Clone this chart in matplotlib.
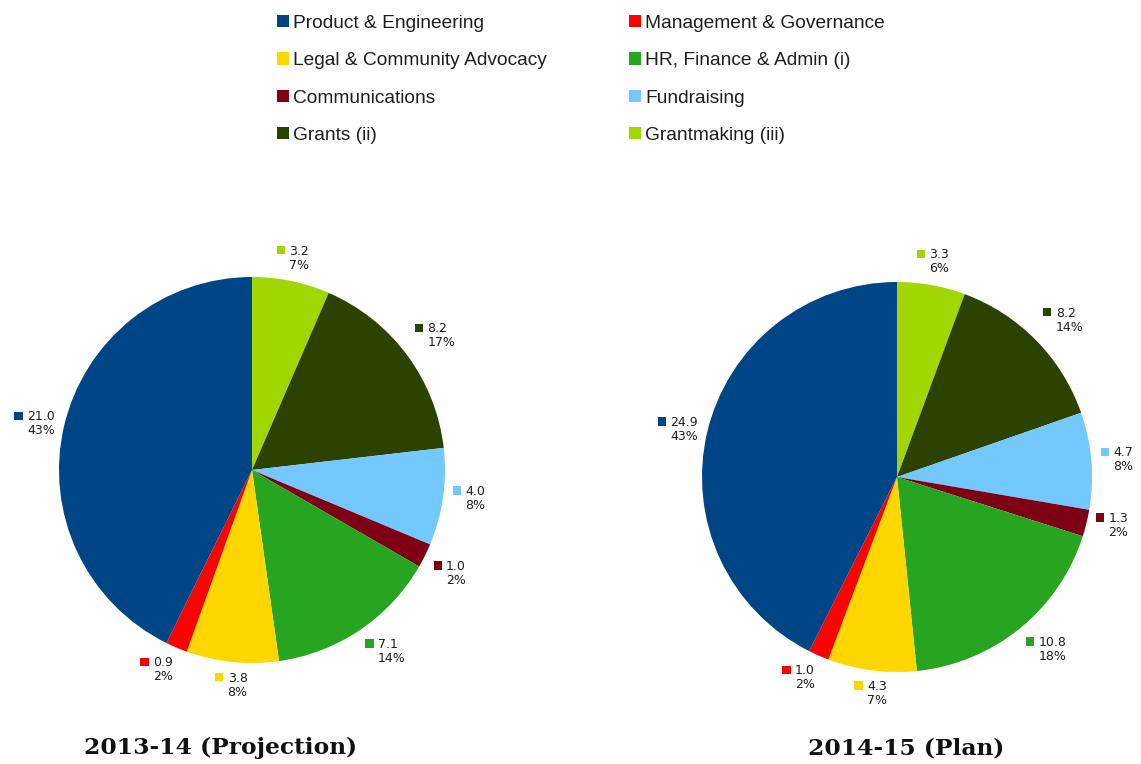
import numpy as np
import matplotlib
matplotlib.use("Agg")
import matplotlib.pyplot as plt
from matplotlib.patches import Patch, Rectangle
from matplotlib.offsetbox import DrawingArea, TextArea, HPacker, AnnotationBbox

categories = [
    "Product & Engineering",
    "Management & Governance",
    "Legal & Community Advocacy",
    "HR, Finance & Admin (i)",
    "Communications",
    "Fundraising",
    "Grants (ii)",
    "Grantmaking (iii)",
]
colors = ["#004586", "#ff0000", "#ffd700", "#27a520", "#7e0015", "#72c8ff", "#2c4200", "#a2d600"]

# values in $M, pie order clockwise from 12 o'clock (reverse of the list above)
values_2013 = [21.0, 0.9, 3.8, 7.1, 1.0, 4.0, 8.2, 3.2]
values_2014 = [24.9, 1.0, 4.3, 10.8, 1.3, 4.7, 8.2, 3.3]
titles = ["2013-14 (Projection)", "2014-15 (Plan)"]

W, H = 1141, 764
TEXT_COLOR = "#1e1e1e"


def px_axes(fig, cx, cy, r):
    return fig.add_axes([(cx - r) / W, 1 - (cy + r) / H, 2 * r / W, 2 * r / H])


def slice_label(ax, color, value, pct, angle):
    # angle: degrees clockwise from top
    a = np.deg2rad(angle)
    s, c = np.sin(a), np.cos(a)
    x, y = 1.05 * s, 1.05 * c
    fx = 0.0 if s > 0.3 else (1.0 if s < -0.3 else 0.5)
    fy = 0.0 if c > 0.3 else (1.0 if c < -0.3 else 0.5)
    da = DrawingArea(6, 9)
    da.add_artist(Rectangle((0, 2), 6, 6, fc=color, ec="none"))
    ta = TextArea(f"{value:.1f}\n{pct:.0f}%",
                  textprops=dict(fontsize=9, color=TEXT_COLOR, linespacing=1.1,
                                 family="DejaVu Sans"))
    box = HPacker(children=[da, ta], align="top", pad=0, sep=3)
    ab = AnnotationBbox(box, (x, y), xycoords="data", box_alignment=(fx, fy),
                        frameon=False, pad=0, annotation_clip=False)
    ax.add_artist(ab)


def draw_pie(ax, values):
    order = list(range(len(values)))[::-1]
    vals = [values[i] for i in order]
    cols = [colors[i] for i in order]
    ax.pie(vals, colors=cols, startangle=90, counterclock=False, radius=1,
           wedgeprops=dict(linewidth=0))
    ax.set_xlim(-1, 1)
    ax.set_ylim(-1, 1)
    ax.set_aspect("equal")
    ax.axis("off")
    total = sum(vals)
    cum = 0.0
    for v, col in zip(vals, cols):
        mid = (cum + v / 2) / total * 360
        slice_label(ax, col, v, round(v / total * 100), mid)
        cum += v


fig = plt.figure(figsize=(W / 100, H / 100), dpi=100)

ax1 = px_axes(fig, 252, 470, 193)
draw_pie(ax1, values_2013)
ax2 = px_axes(fig, 897, 477, 195)
draw_pie(ax2, values_2014)

fig.text(221 / W, 1 - 748 / H, titles[0], ha="center", va="center",
         fontsize=16.8, fontweight="bold", family="DejaVu Serif", color="#111111")
fig.text(906 / W, 1 - 748 / H, titles[1], ha="center", va="center",
         fontsize=16.8, fontweight="bold", family="DejaVu Serif", color="#111111")

handles = [Patch(facecolor=c, edgecolor="none") for c in colors]
idx = [0, 2, 4, 6, 1, 3, 5, 7]
fig.legend([handles[i] for i in idx], [categories[i] for i in idx],
           ncol=2, loc="upper left", bbox_to_anchor=(277 / W, 1 - 15 / H),
           frameon=False, borderpad=0, borderaxespad=0,
           prop=dict(family="Liberation Sans", size=13.8),
           handlelength=0.62, handleheight=0.62, handletextpad=0.22,
           columnspacing=4.3, labelspacing=1.06, labelcolor=TEXT_COLOR)

fig.savefig("out.png", dpi=100)
